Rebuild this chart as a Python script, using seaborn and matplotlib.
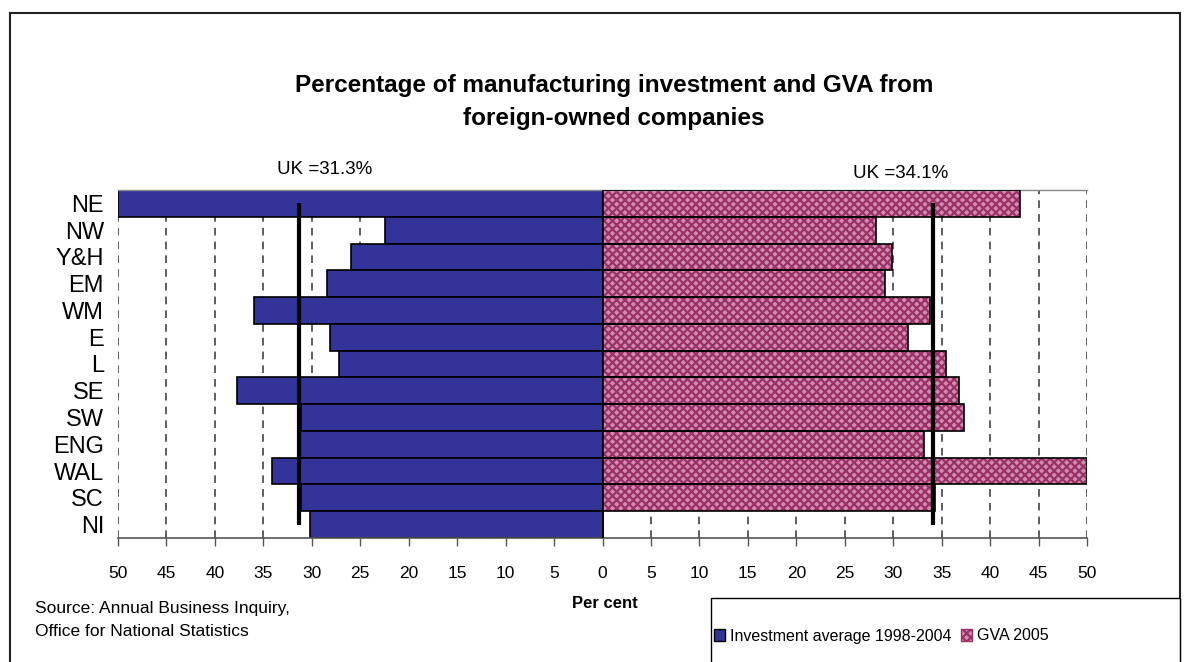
import matplotlib
matplotlib.use('Agg')
import matplotlib.pyplot as plt
import seaborn as sns
import pandas as pd
from matplotlib.ticker import FuncFormatter
from matplotlib.patches import Rectangle, Patch

regions = ['NE', 'NW', 'Y&H', 'EM', 'WM', 'E', 'L', 'SE', 'SW', 'ENG', 'WAL', 'SC', 'NI']
investment = [50.0, 22.4, 26.0, 28.4, 36.0, 28.1, 27.2, 37.7, 31.1, 31.2, 34.1, 31.1, 30.2]
gva = [43.1, 28.2, 29.9, 29.2, 33.8, 31.5, 35.4, 36.8, 37.3, 33.2, 50.0, 34.3, 0.0]
uk_investment = 31.3
uk_gva = 34.1
ticks = list(range(-50, 55, 5))

blue = '#333399'
pink_face = '#d48bb1'
pink_hatch = '#993366'

sns.set_theme(style='white')
plt.rcParams['font.family'] = ['Liberation Sans', 'DejaVu Sans']
plt.rcParams['hatch.linewidth'] = 1.6
plt.rcParams['text.color'] = 'black'
plt.rcParams['xtick.color'] = 'black'
plt.rcParams['ytick.color'] = 'black'

df = pd.DataFrame({'region': regions,
                   'investment': [-v for v in investment],
                   'gva': gva})

fig = plt.figure(figsize=(11.87, 6.62), dpi=100)
ax = fig.add_axes([118 / 1187, 1 - 538 / 662, 969 / 1187, 348 / 662])

# left side: investment (plotted negative)
sns.barplot(data=df, y='region', x='investment', orient='h', width=1.0,
            color=blue, saturation=1, edgecolor='black', linewidth=1.2,
            errorbar=None, ax=ax, zorder=2)
# right side: GVA, hatched fill then black outline
sns.barplot(data=df, y='region', x='gva', orient='h', width=1.0,
            color=pink_face, saturation=1, edgecolor=pink_hatch, linewidth=0,
            hatch='xxxx', errorbar=None, ax=ax, zorder=2)
sns.barplot(data=df, y='region', x='gva', orient='h', width=1.0,
            fill=False, color='black', linewidth=1.2,
            errorbar=None, ax=ax, zorder=3)

# UK average lines
n = len(regions)
ax.vlines([-uk_investment, uk_gva], 0, n - 1, color='black', lw=3, zorder=4)
ax.text(-uk_investment - 2.3, -1.27, f'UK ={uk_investment}%', ha='left', va='center', fontsize=13.5)
ax.text(uk_gva - 8.3, -1.12, f'UK ={uk_gva}%', ha='left', va='center', fontsize=13.5)

ax.set_xlim(-50, 50)
ax.set_ylim(n - 0.5, -0.5)
ax.set_xticks(ticks)
ax.xaxis.set_major_formatter(FuncFormatter(lambda v, p: f'{abs(v):.0f}'))
ax.grid(axis='x', linestyle=(0, (5, 4)), color='#333333', lw=1.1)
ax.set_axisbelow(True)
ax.set_xlabel('')
ax.set_ylabel('')

for side in ['left', 'right']:
    ax.spines[side].set_visible(False)
ax.spines['top'].set_color('#888888')
ax.spines['top'].set_linewidth(1)
ax.spines['bottom'].set_color('#555555')
ax.spines['bottom'].set_linewidth(1.2)

ax.tick_params(axis='x', bottom=True, length=6, width=1, color='#555555',
               direction='out', labelsize=12.5, pad=14)
ax.tick_params(axis='y', left=False, labelsize=17, pad=4)

fig.suptitle('Percentage of manufacturing investment and GVA from\nforeign-owned companies',
             x=614 / 1187, y=1 - 74 / 662, fontsize=17.5, fontweight='bold',
             va='top', linespacing=1.55)

fig.text(605 / 1187, 1 - 603 / 662, 'Per cent', ha='center', va='center',
         fontsize=12, fontweight='bold')
fig.text(35 / 1187, 1 - 620 / 662, 'Source: Annual Business Inquiry,\nOffice for National Statistics',
         ha='left', va='center', fontsize=12.5, linespacing=1.65)

# outer frame and legend box
fig.add_artist(Rectangle((10 / 1187, -0.1), 1170 / 1187, 1.1 - 13 / 662,
                         transform=fig.transFigure, fill=False,
                         edgecolor='#222222', lw=1.5))
fig.add_artist(Rectangle((711 / 1187, -0.1), 469 / 1187, 0.1 + 1 - 598 / 662,
                         transform=fig.transFigure, facecolor='white',
                         edgecolor='black', lw=1))

handles = [Patch(facecolor=blue, edgecolor='black', lw=1),
           Patch(facecolor=pink_face, edgecolor=pink_hatch, hatch='xxxx', lw=1)]
leg = fig.legend(handles, ['Investment average 1998-2004', 'GVA 2005'],
                 loc='center left', bbox_to_anchor=(714 / 1187, 1 - 636 / 662),
                 ncol=2, frameon=False, fontsize=11.5, borderpad=0,
                 handlelength=0.7, handleheight=0.7, handletextpad=0.3,
                 columnspacing=0.6, borderaxespad=0)

fig.savefig('out.png', dpi=100)
